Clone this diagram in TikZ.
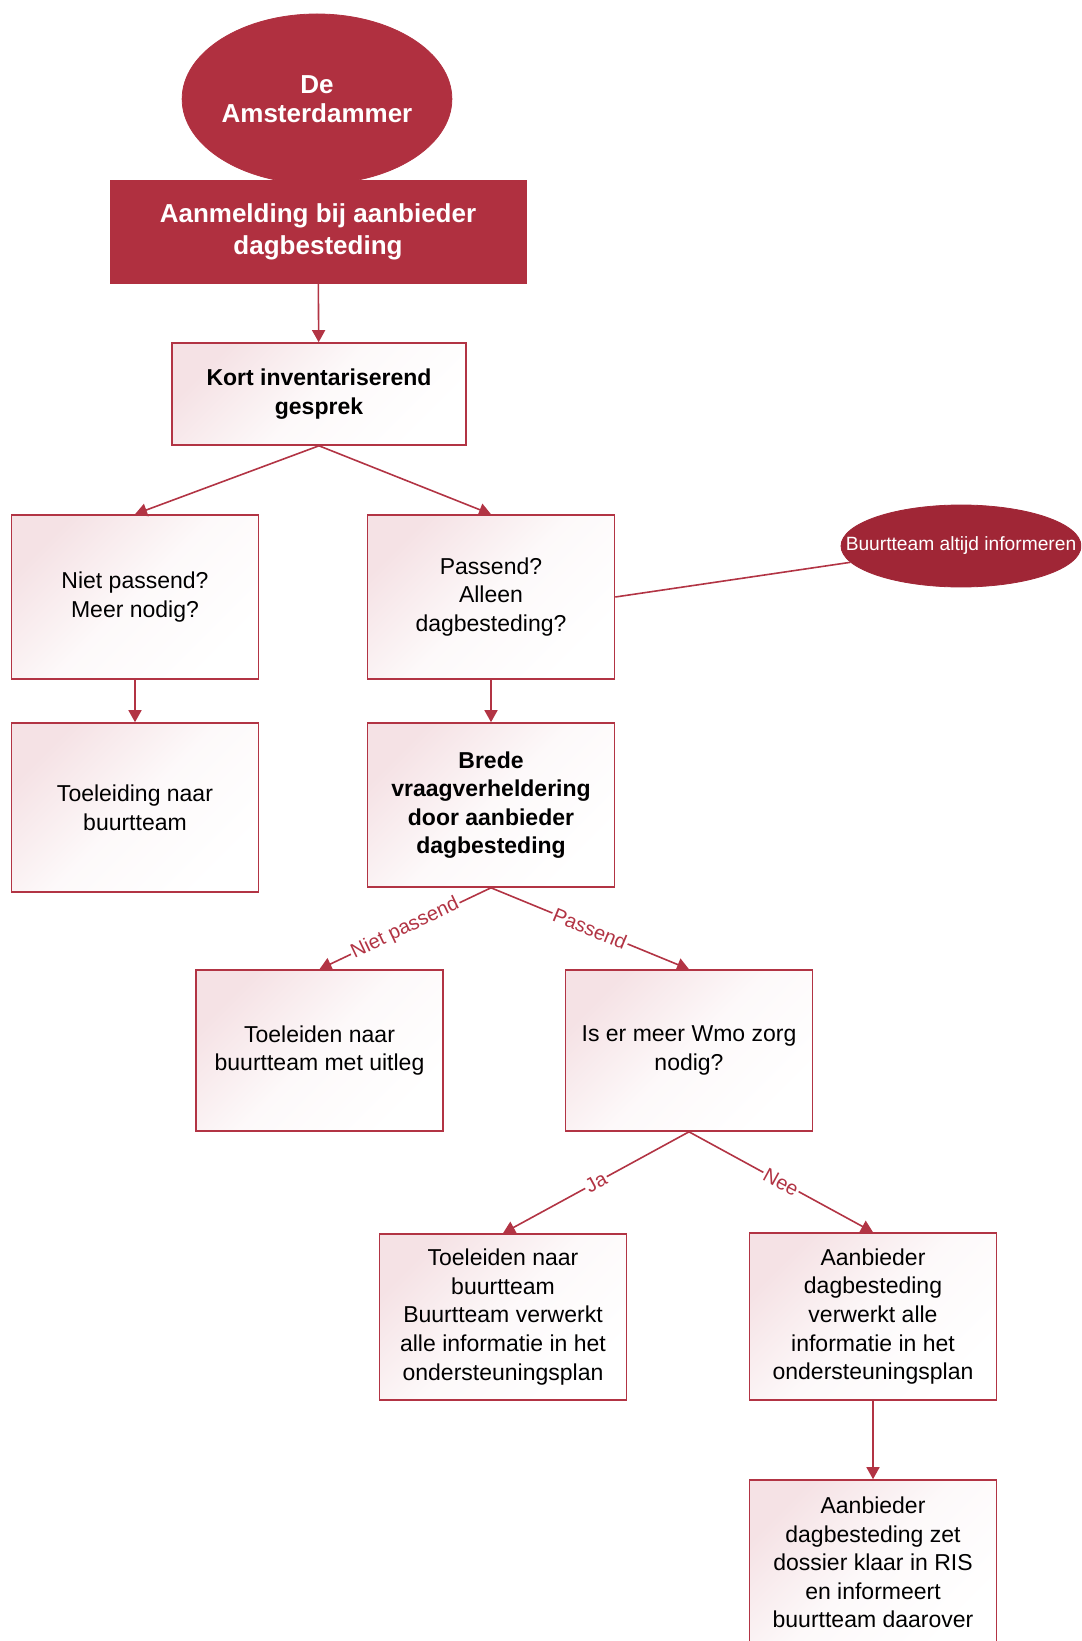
\documentclass[tikz,border=0pt]{standalone}
\usepackage{fontspec}
\setmainfont{Liberation Sans}
\usetikzlibrary{shapes.geometric, arrows.meta}

\definecolor{amsred}{RGB}{176,48,64}
\definecolor{buurtred}{RGB}{160,38,54}
\definecolor{lineRed}{RGB}{178,52,68}
\definecolor{boxpink}{RGB}{245,226,229}

\tikzset{
	stepbox/.style={rectangle, draw=lineRed, line width=0.8pt, top color=boxpink, bottom color=white, middle color=white!80!boxpink,
		shading angle=45, minimum width=123.5pt, minimum height=82pt, align=center, inner sep=2pt,
		font=\fontsize{11.5}{14.3}\selectfont},
	redbox/.style={rectangle, draw=amsred, fill=amsred, text=white, align=center,
		font=\fontsize{13}{16}\selectfont\bfseries},
	redoval/.style={ellipse, draw=amsred, fill=amsred, text=white, align=center, inner sep=0pt},
	flow/.style={draw=lineRed, line width=0.8pt, -{Triangle[width=6.5pt,length=6pt]}},
	choice/.style={sloped, fill=white, inner sep=0.8pt, text=lineRed, font=\fontsize{10}{11}\selectfont}
}

\begin{document}
\begin{tikzpicture}[x=0.5pt, y=-0.5pt]

	\clip (0,0) rectangle (1081,1641);

	% Start: the Amsterdammer and the registration
	\node[redoval, minimum width=130pt, minimum height=85pt, font=\fontsize{13}{14.7}\selectfont\bfseries]
		(ams) at (317,99) {De\\Amsterdammer};
	\node[redbox, minimum width=208pt, minimum height=51.5pt] (aanmelding) at (318,231.5)
		{Aanmelding bij aanbieder\\dagbesteding};

	% First talk and the two outcomes
	\node[stepbox, minimum width=147pt, minimum height=51pt, font=\fontsize{11.5}{14.3}\selectfont\bfseries]
		(kort) at (319,394) {Kort inventariserend\\gesprek};
	\node[stepbox] (niet) at (135,597) {Niet passend?\\Meer nodig?};
	\node[stepbox] (passend) at (491,597) {Passend?\\Alleen\\dagbesteding?};
	\node[redoval, draw=buurtred, fill=buurtred, inner xsep=-24pt, minimum width=120pt, minimum height=41pt,
		font=\fontsize{9.6}{10}\selectfont] (buurt) at (961,546) {Buurtteam altijd informeren};

	\node[stepbox, minimum height=84.5pt] (toeleiding) at (135,807.5) {Toeleiding naar\\buurtteam};
	\node[stepbox, font=\fontsize{11.5}{14.3}\selectfont\bfseries] (brede) at (491,805)
		{Brede\\vraagverheldering\\door aanbieder\\dagbesteding};

	% After the broad question
	\node[stepbox, minimum height=80.5pt] (uitleg) at (319.5,1050.5) {Toeleiden naar\\buurtteam met uitleg};
	\node[stepbox, minimum height=80.5pt] (wmo) at (689,1050.5) {Is er meer Wmo zorg\\nodig?};

	\node[stepbox, minimum height=83pt] (jabox) at (503,1317)
		{Toeleiden naar\\buurtteam\\Buurtteam verwerkt\\alle informatie in het\\ondersteuningsplan};
	\node[stepbox, minimum height=83.5pt] (neebox) at (873,1316.5)
		{Aanbieder\\dagbesteding\\verwerkt alle\\informatie in het\\ondersteuningsplan};
	\node[stepbox, minimum height=82.5pt] (dossier) at (873,1562.5)
		{Aanbieder\\dagbesteding zet\\dossier klaar in RIS\\en informeert\\buurtteam daarover};

	% Connectors
	\draw[flow] (aanmelding) -- (kort);
	\draw[flow] (kort.south) -- (niet.north);
	\draw[flow] (kort.south) -- (passend.north);
	\draw[flow] (niet) -- (toeleiding);
	\draw[flow] (passend) -- (brede);
	\draw[draw=lineRed, line width=0.8pt] (passend.east) -- (buurt);

	\draw[flow] (brede.south) -- (uitleg.north) node[choice, midway] {Niet passend};
	\draw[flow] (brede.south) -- (wmo.north) node[choice, midway] {Passend};
	\draw[flow] (wmo.south) -- (jabox.north) node[choice, midway] {Ja};
	\draw[flow] (wmo.south) -- (neebox.north) node[choice, midway] {Nee};
	\draw[flow] (neebox) -- (dossier);

\end{tikzpicture}
\end{document}
